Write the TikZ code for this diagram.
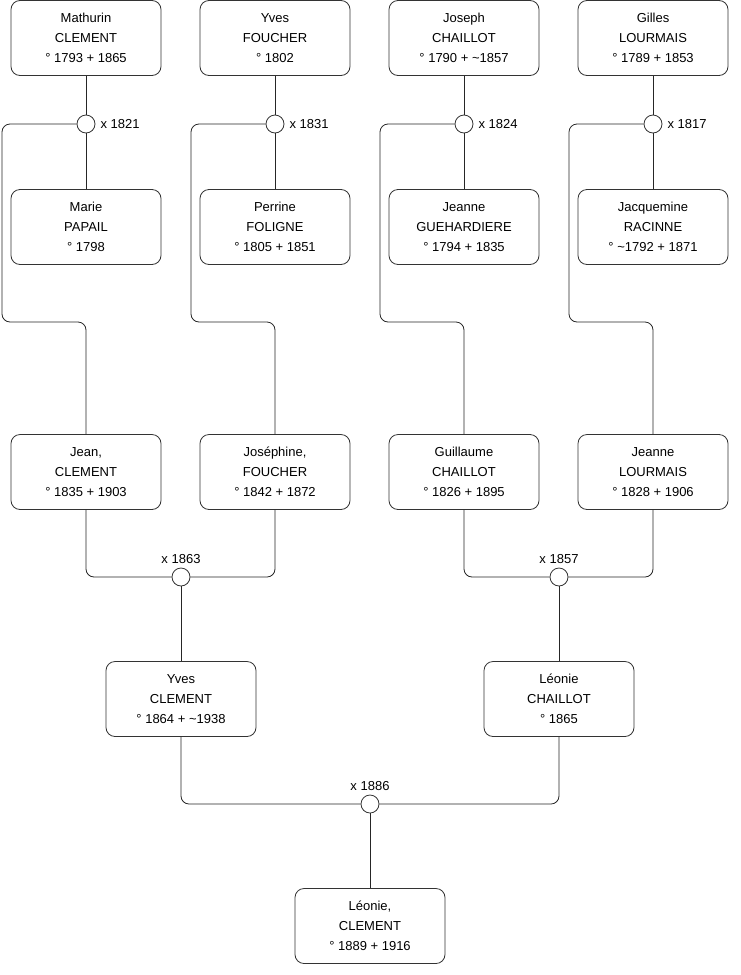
\documentclass[tikz,border=0pt]{standalone}
\usepackage{fontspec}
\setmainfont{Liberation Sans}
\usetikzlibrary{positioning}

\tikzset{
  person/.style={draw=black!80, line width=0.8pt, rounded corners=9pt, minimum width=150pt,
    minimum height=75pt, align=center, font=\fontsize{13}{20}\selectfont},
  wed/.style={draw=black!80, line width=0.8pt, fill=white, circle, minimum size=18pt, inner sep=0pt},
  year/.style={font=\fontsize{13}{15}\selectfont, inner sep=2pt},
  link/.style={draw=black!85, line width=0.8pt, rounded corners=8pt}
}

\begin{document}
\begin{tikzpicture}[x=1pt,y=-1pt]

		\useasboundingbox (0,0) rectangle (740,975);

		% Top row (husbands)
		\node[person] (mathurin) at (86,38) {Mathurin\\CLEMENT\\° 1793 + 1865};
		\node[person] (yves) at (275,38) {Yves\\FOUCHER\\° 1802};
		\node[person] (joseph) at (464,38) {Joseph\\CHAILLOT\\° 1790 + \textasciitilde1857};
		\node[person] (gilles) at (653,38) {Gilles\\LOURMAIS\\° 1789 + 1853};

		% Marriages
		\node[wed] (m1821) at (86,124) {};
		\node[wed] (m1831) at (275,124) {};
		\node[wed] (m1824) at (464,124) {};
		\node[wed] (m1817) at (653,124) {};
		\node[year, right=3pt of m1821] (l1821) {x 1821};
		\node[year, right=3pt of m1831] (l1831) {x 1831};
		\node[year, right=3pt of m1824] (l1824) {x 1824};
		\node[year, right=3pt of m1817] (l1817) {x 1817};

		% Second row (wives)
		\node[person] (marie) at (86,227) {Marie\\PAPAIL\\° 1798};
		\node[person] (perrine) at (275,227) {Perrine\\FOLIGNE\\° 1805 + 1851};
		\node[person] (jeanne1) at (464,227) {Jeanne\\GUEHARDIERE\\° 1794 + 1835};
		\node[person] (jacquemine) at (653,227) {Jacquemine\\RACINNE\\° \textasciitilde1792 + 1871};

		% Children
		\node[person] (jean) at (86,472) {Jean,\\CLEMENT\\° 1835 + 1903};
		\node[person] (josephine) at (275,472) {Joséphine,\\FOUCHER\\° 1842 + 1872};
		\node[person] (guillaume) at (464,472) {Guillaume\\CHAILLOT\\° 1826 + 1895};
		\node[person] (jeanne2) at (653,472) {Jeanne\\LOURMAIS\\° 1828 + 1906};

		\node[wed] (m1863) at (181,577) {};
		\node[wed] (m1857) at (559,577) {};
		\node[year, above=2pt of m1863] (l1863) {x 1863};
		\node[year, above=2pt of m1857] (l1857) {x 1857};

		\node[person] (yves2) at (181,699) {Yves\\CLEMENT\\° 1864 + \textasciitilde1938};
		\node[person] (leonie1) at (559,699) {Léonie\\CHAILLOT\\° 1865};

		\node[wed] (m1886) at (370,804) {};
		\node[year, above=2pt of m1886] (l1886) {x 1886};

		\node[person] (leonie2) at (370,926) {Léonie,\\CLEMENT\\° 1889 + 1916};

		% Bends of the long connectors
		\coordinate (b1821) at (2,322);
		\coordinate (b1831) at (191,322);
		\coordinate (b1824) at (380,322);
		\coordinate (b1817) at (569,322);

		% Couples
		\draw[link] (mathurin) -- (m1821) -- (marie);
		\draw[link] (yves) -- (m1831) -- (perrine);
		\draw[link] (joseph) -- (m1824) -- (jeanne1);
		\draw[link] (gilles) -- (m1817) -- (jacquemine);

		% Marriage to child
		\draw[link] (m1821.west) -| (b1821) -| (jean.north);
		\draw[link] (m1831.west) -| (b1831) -| (josephine.north);
		\draw[link] (m1824.west) -| (b1824) -| (guillaume.north);
		\draw[link] (m1817.west) -| (b1817) -| (jeanne2.north);

		\draw[link] (jean.south) |- (m1863.west);
		\draw[link] (josephine.south) |- (m1863.east);
		\draw[link] (m1863) -- (yves2);
		\draw[link] (guillaume.south) |- (m1857.west);
		\draw[link] (jeanne2.south) |- (m1857.east);
		\draw[link] (m1857) -- (leonie1);

		\draw[link] (yves2.south) |- (m1886.west);
		\draw[link] (leonie1.south) |- (m1886.east);
		\draw[link] (m1886) -- (leonie2);

	\end{tikzpicture}
\end{document}
